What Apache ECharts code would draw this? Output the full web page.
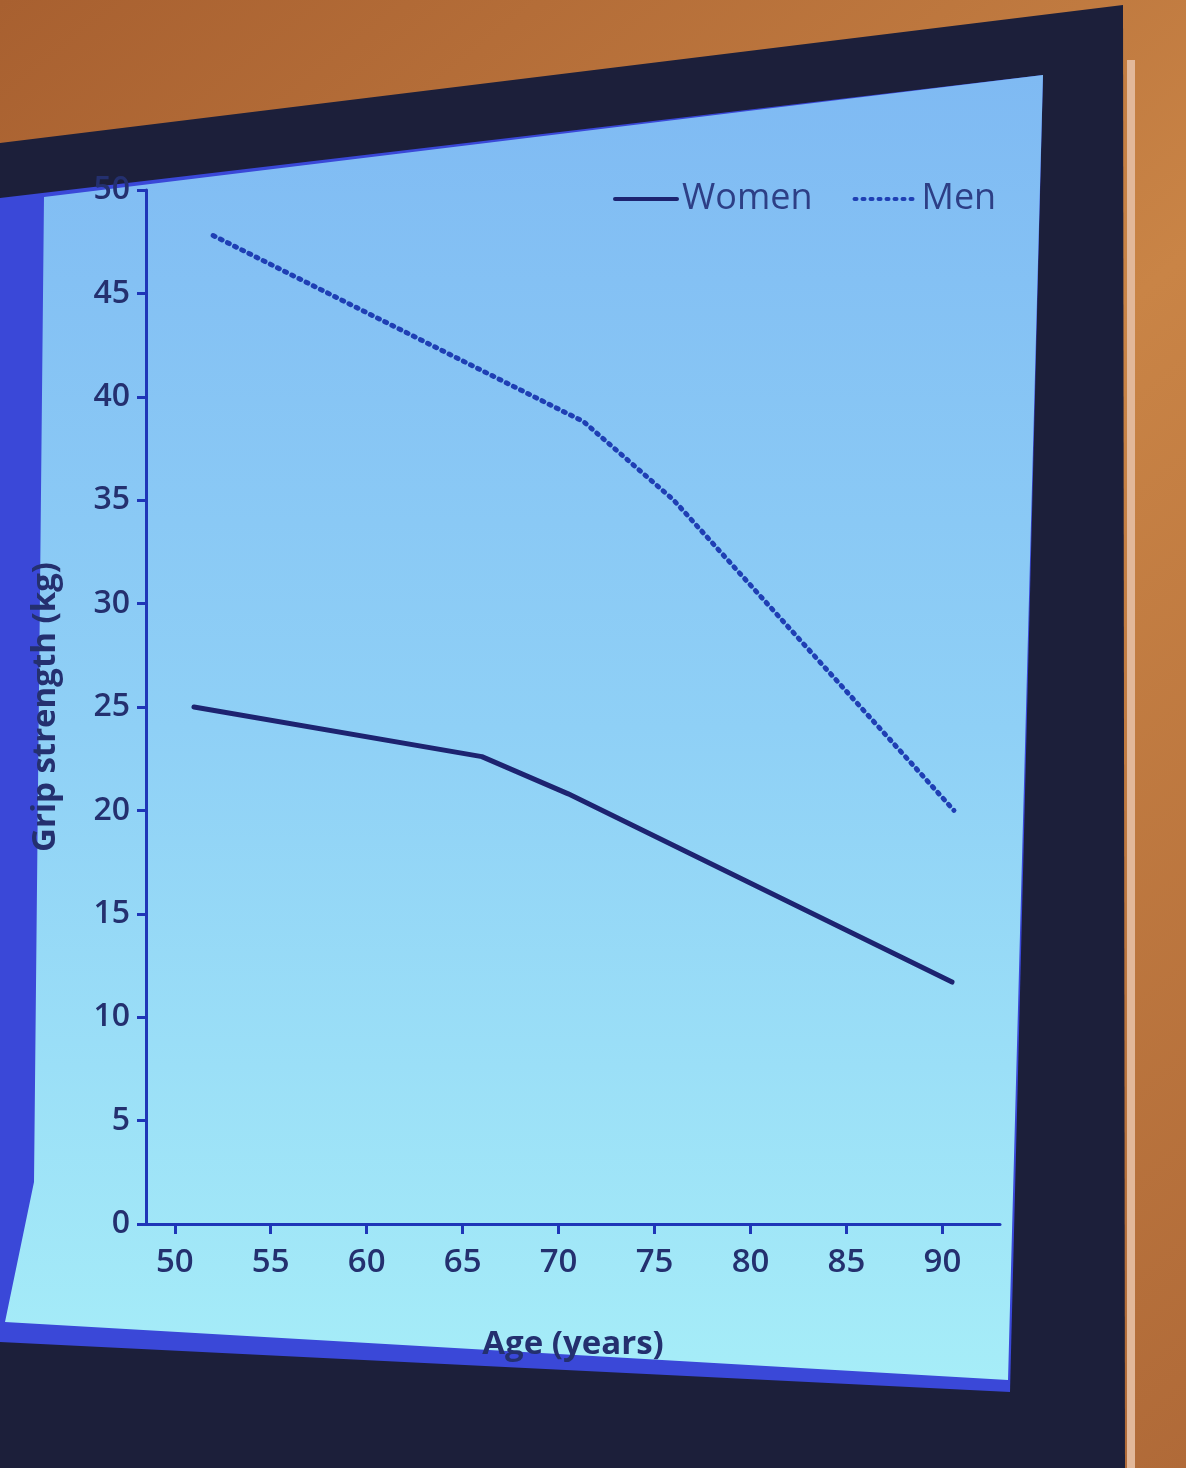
<!DOCTYPE html>
<html>
<head>
<meta charset="utf-8">
<script src="https://cdn.jsdelivr.net/npm/echarts@6/dist/echarts.min.js"></script>
<style>
html,body{margin:0;padding:0;background:#b8723c;}
#chart{width:1186px;height:1468px;}
</style>
</head>
<body>
<div id="chart"></div>
<script>
const xTicks = [50, 55, 60, 65, 70, 75, 80, 85, 90];
const womenAges = [51, 66, 70.5, 90.5];
const womenGrip = [25, 22.6, 20.8, 11.7];
const menAges = [52, 71.3, 76, 90.6];
const menGrip = [47.8, 38.8, 35, 20];

const textColor = '#24306f';
const axisColor = '#1f36b8';
const fontFamily = '"Open Sans", "Noto Sans", sans-serif';

const chart = echarts.init(document.getElementById('chart'));
chart.setOption({
  animation: false,
  backgroundColor: 'transparent',
  graphic: {
    elements: [
      { type: 'rect', z: -100, silent: true, shape: { x: 0, y: 0, width: 1186, height: 1468 },
        style: { fill: new echarts.graphic.LinearGradient(0, 0, 1, 1, [
          { offset: 0, color: '#a86030' }, { offset: 0.5, color: '#c98446' }, { offset: 1, color: '#b06a38' }]) } },
      { type: 'polygon', z: -99, silent: true,
        shape: { points: [[0, 143], [1123, 5], [1125, 1468], [0, 1468]] },
        style: { fill: '#1c1f3a' } },
      { type: 'rect', z: -99, silent: true, shape: { x: 1127, y: 60, width: 8, height: 1408 },
        style: { fill: '#e2b89a' } },
      { type: 'polygon', z: -98, silent: true,
        shape: { points: [[0, 198], [1043, 75], [1010, 1392], [0, 1342]] },
        style: { fill: '#3a48d8' } },
      { type: 'polygon', z: -97, silent: true,
        shape: { points: [[44, 197], [1043, 75], [1008, 1380], [5, 1322], [34, 1182]] },
        style: { fill: new echarts.graphic.LinearGradient(0, 0, 0, 1, [
          { offset: 0, color: '#7fbaf3' }, { offset: 0.5, color: '#8fd0f6' }, { offset: 1, color: '#a6edf8' }]) } }
    ]
  },
  grid: { left: 146, right: 186, top: 190, bottom: 244, containLabel: false },
  legend: {
    left: 608, top: 176,
    itemWidth: 62, itemHeight: 14, itemGap: 40,
    itemStyle: { opacity: 0 },
    lineStyle: { width: 4 },
    textStyle: { color: '#2d3f86', fontSize: 36, fontFamily: fontFamily, fontWeight: 500 },
    data: ['Women', 'Men']
  },
  xAxis: {
    type: 'value', min: 48.5, max: 93,
    name: 'Age (years)', nameLocation: 'middle', nameGap: 104,
    nameTextStyle: { color: textColor, fontSize: 33, fontWeight: 'bold', fontFamily: fontFamily },
    axisLine: { show: true, lineStyle: { color: axisColor, width: 3 } },
    axisTick: { show: true, length: 10, customValues: xTicks, lineStyle: { color: axisColor, width: 3 } },
    axisLabel: { customValues: xTicks, margin: 22, color: textColor, fontSize: 33, fontWeight: 600, fontFamily: fontFamily },
    splitLine: { show: false }
  },
  yAxis: {
    type: 'value', min: 0, max: 50, interval: 5,
    name: 'Grip strength (kg)', nameLocation: 'middle', nameGap: 84, nameRotate: 90,
    nameTextStyle: { color: textColor, fontSize: 33, fontWeight: 'bold', fontFamily: fontFamily },
    axisLine: { show: true, lineStyle: { color: axisColor, width: 3 } },
    axisTick: { show: true, length: 9, lineStyle: { color: axisColor, width: 3 } },
    axisLabel: { margin: 16, color: textColor, fontSize: 32, fontWeight: 600, fontFamily: fontFamily },
    splitLine: { show: false }
  },
  series: [
    {
      name: 'Women', type: 'line', symbol: 'none', showSymbol: false,
      data: womenAges.map((a, i) => [a, womenGrip[i]]),
      lineStyle: { color: '#1d2370', width: 5, cap: 'round' },
      itemStyle: { color: '#1d2370' }
    },
    {
      name: 'Men', type: 'line', symbol: 'none', showSymbol: false,
      data: menAges.map((a, i) => [a, menGrip[i]]),
      lineStyle: { color: '#1f3fb4', width: 5, type: [2, 6], cap: 'round' },
      itemStyle: { color: '#1f3fb4' }
    }
  ]
});
</script>
</body>
</html>
